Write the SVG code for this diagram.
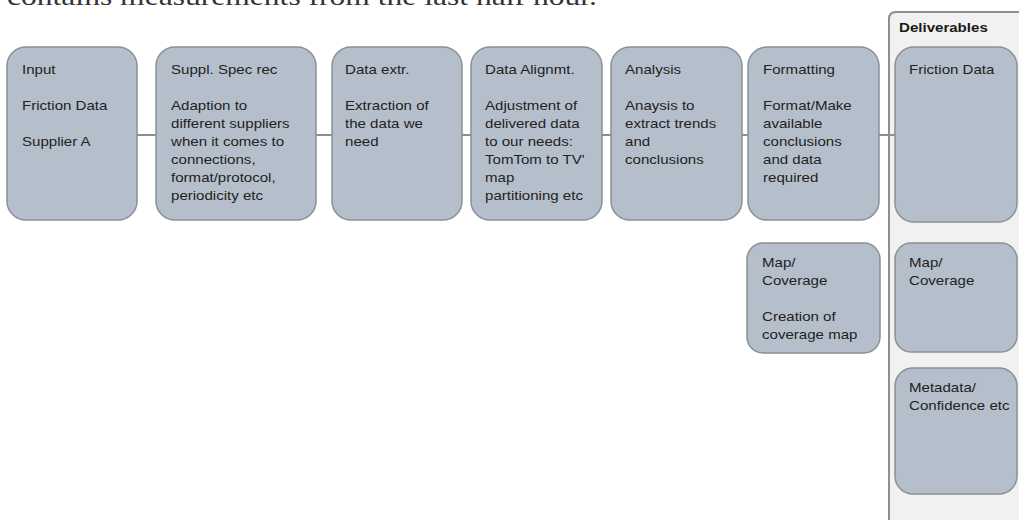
<svg xmlns="http://www.w3.org/2000/svg" width="1019" height="520" viewBox="0 0 1019 520">
  <style>
    .box { fill: #b5bfcb; stroke: #8b9097; stroke-width: 1.5; }
    .t { font-family: "Liberation Sans", Arial, sans-serif; font-size: 13px; fill: #222; }
    .tb { font-family: "Liberation Sans", Arial, sans-serif; font-size: 13px; font-weight: bold; fill: #1a1a1a; }
    .conn { stroke: #8e8e8e; stroke-width: 2; fill: none; }
    .panel { fill: #f1f1f1; stroke: #8f8f8f; stroke-width: 2; }
    .top { font-family: "Liberation Serif", "Times New Roman", serif; font-size: 26px; fill: #333; }
  </style>
  <rect x="0" y="0" width="1019" height="520" fill="#ffffff"/>
  <text class="top" x="7" y="5" textLength="590" lengthAdjust="spacingAndGlyphs">contains measurements from the last half hour.</text>

  <g id="deliverables-panel">
    <path class="panel" d="M889 530 V19 Q889 12 896 12 H1030 V530 Z"/>
    <g transform="translate(899 0) scale(1.16 1)"><text class="tb" x="0" y="32">Deliverables</text></g>
  </g>

  <g id="connectors">
    <line class="conn" x1="137" y1="135" x2="156" y2="135"/>
    <line class="conn" x1="316" y1="135" x2="332" y2="135"/>
    <line class="conn" x1="462" y1="135" x2="471" y2="135"/>
    <line class="conn" x1="602" y1="135" x2="611" y2="135"/>
    <line class="conn" x1="742" y1="135" x2="748" y2="135"/>
    <line class="conn" x1="879" y1="135" x2="895" y2="135"/>
  </g>

  <g id="input">
    <rect class="box" x="7" y="47" width="130" height="173" rx="19"/>
    <g transform="translate(22 0) scale(1.16 1)">
      <text class="t" x="0" y="74">Input</text>
      <text class="t" x="0" y="110">Friction Data</text>
      <text class="t" x="0" y="146">Supplier A</text>
    </g>
  </g>

  <g id="suppl-spec-rec">
    <rect class="box" x="156" y="47" width="160" height="173" rx="19"/>
    <g transform="translate(171 0) scale(1.16 1)">
      <text class="t" x="0" y="74">Suppl. Spec rec</text>
      <text class="t" x="0" y="110">Adaption to</text>
      <text class="t" x="0" y="128">different suppliers</text>
      <text class="t" x="0" y="146">when it comes to</text>
      <text class="t" x="0" y="164">connections,</text>
      <text class="t" x="0" y="182">format/protocol,</text>
      <text class="t" x="0" y="200">periodicity etc</text>
    </g>
  </g>

  <g id="data-extr">
    <rect class="box" x="332" y="47" width="130" height="173" rx="19"/>
    <g transform="translate(345 0) scale(1.16 1)">
      <text class="t" x="0" y="74">Data extr.</text>
      <text class="t" x="0" y="110">Extraction of</text>
      <text class="t" x="0" y="128">the data we</text>
      <text class="t" x="0" y="146">need</text>
    </g>
  </g>

  <g id="data-alignmt">
    <rect class="box" x="471" y="47" width="131" height="173" rx="19"/>
    <g transform="translate(485 0) scale(1.16 1)">
      <text class="t" x="0" y="74">Data Alignmt.</text>
      <text class="t" x="0" y="110">Adjustment of</text>
      <text class="t" x="0" y="128">delivered data</text>
      <text class="t" x="0" y="146">to our needs:</text>
      <text class="t" x="0" y="164">TomTom to TV'</text>
      <text class="t" x="0" y="182">map</text>
      <text class="t" x="0" y="200">partitioning etc</text>
    </g>
  </g>

  <g id="analysis">
    <rect class="box" x="611" y="47" width="131" height="173" rx="19"/>
    <g transform="translate(625 0) scale(1.16 1)">
      <text class="t" x="0" y="74">Analysis</text>
      <text class="t" x="0" y="110">Anaysis to</text>
      <text class="t" x="0" y="128">extract trends</text>
      <text class="t" x="0" y="146">and</text>
      <text class="t" x="0" y="164">conclusions</text>
    </g>
  </g>

  <g id="formatting">
    <rect class="box" x="748" y="47" width="131" height="173" rx="19"/>
    <g transform="translate(763 0) scale(1.16 1)">
      <text class="t" x="0" y="74">Formatting</text>
      <text class="t" x="0" y="110">Format/Make</text>
      <text class="t" x="0" y="128">available</text>
      <text class="t" x="0" y="146">conclusions</text>
      <text class="t" x="0" y="164">and data</text>
      <text class="t" x="0" y="182">required</text>
    </g>
  </g>

  <g id="map-coverage">
    <rect class="box" x="747" y="243" width="133" height="110" rx="16"/>
    <g transform="translate(762 0) scale(1.16 1)">
      <text class="t" x="0" y="267">Map/</text>
      <text class="t" x="0" y="285">Coverage</text>
      <text class="t" x="0" y="321">Creation of</text>
      <text class="t" x="0" y="339">coverage map</text>
    </g>
  </g>

  <g id="deliv-friction-data">
    <rect class="box" x="895" y="47" width="122" height="175" rx="19"/>
    <g transform="translate(909 0) scale(1.16 1)">
      <text class="t" x="0" y="74">Friction Data</text>
    </g>
  </g>

  <g id="deliv-map-coverage">
    <rect class="box" x="895" y="243" width="122" height="109" rx="16"/>
    <g transform="translate(909 0) scale(1.16 1)">
      <text class="t" x="0" y="267">Map/</text>
      <text class="t" x="0" y="285">Coverage</text>
    </g>
  </g>

  <g id="deliv-metadata">
    <rect class="box" x="895" y="368" width="122" height="126" rx="18"/>
    <g transform="translate(909 0) scale(1.16 1)">
      <text class="t" x="0" y="392">Metadata/</text>
      <text class="t" x="0" y="410">Confidence etc</text>
    </g>
  </g>
</svg>
